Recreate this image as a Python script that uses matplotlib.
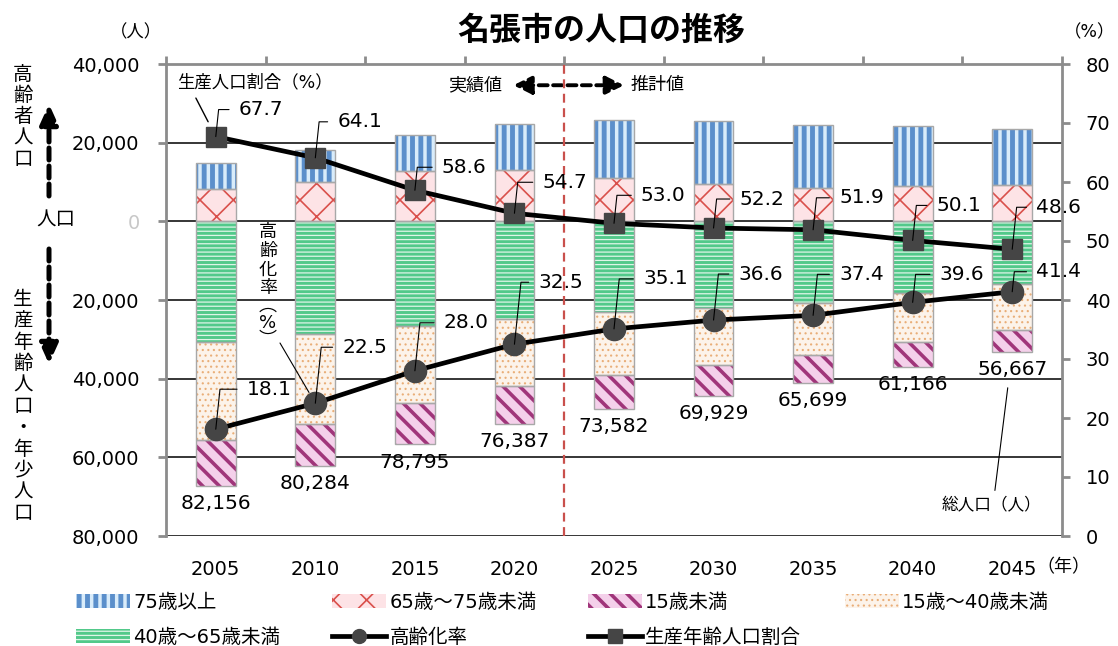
import matplotlib
matplotlib.use('Agg')
import matplotlib.pyplot as plt
import numpy as np
from matplotlib.lines import Line2D
from matplotlib.transforms import blended_transform_factory

plt.rcParams['font.family'] = ['DejaVu Sans', 'Noto Sans CJK JP']
plt.rcParams['axes.unicode_minus'] = False

# --------------------------
# データ
# --------------------------
years = ['2005', '2010', '2015', '2020', '2025', '2030', '2035', '2040', '2045']
total_pop = [82156, 80284, 78795, 76387, 73582, 69929, 65699, 61166, 56667]
aging_rate = [18.1, 22.5, 28.0, 32.5, 35.1, 36.6, 37.4, 39.6, 41.4]
prod_ratio = [67.7, 64.1, 58.6, 54.7, 53.0, 52.2, 51.9, 50.1, 48.6]

pop_75plus = [6600, 8040, 9330, 11700, 14800, 16150, 15990, 15280, 14150]
pop_65_75 = [8270, 10020, 12730, 13130, 11030, 9440, 8580, 8940, 9310]
pop_40_65 = [30660, 28740, 26510, 24720, 23150, 22050, 20720, 18290, 16020]
pop_15_40 = [24960, 22720, 19660, 17060, 15850, 14450, 13380, 12350, 11520]
pop_under15 = [11670, 10760, 10560, 9780, 8750, 7840, 7030, 6310, 5670]

# ラベル位置 (px, マーカーからのずれ)
prod_off = [(23, 27), (22, 36), (27, 23), (28, 31), (27, 28), (26, 29), (26, 32), (24, 35), (24, 42)]
aging_off = [(31, 40), (27, 56), (29, 48), (24, 62), (29, 50), (25, 46), (26, 41), (27, 28), (24, 20)]

W, H = 1118, 646
def fx(px):
    return px / W
def fy(py):
    return 1 - py / H

GRAY = '#8c8c8c'
MARK = '#454545'

fig = plt.figure(figsize=(W / 100, H / 100), dpi=100)
ax = fig.add_axes([fx(166), fy(536), fx(1062) - fx(166), fy(64) - fy(536)])
ax2 = ax.twinx()

x = np.arange(len(years))
bw = 0.4
hatch_lw = {}


def hatch_bar(vals, bottom, face, hcol, hatch, hlw, label):
    with plt.rc_context({'hatch.linewidth': hlw}):
        bars = ax.bar(x, vals, bw, bottom=bottom, color=face, edgecolor=hcol,
                      hatch=hatch, linewidth=0, zorder=2)
    for b in bars:
        if hasattr(b, 'set_hatch_linewidth'):
            b.set_hatch_linewidth(hlw)
    ax.bar(x, vals, bw, bottom=bottom, fill=False, edgecolor='#a8a8a8',
           linewidth=1, zorder=3)
    hatch_lw[label] = hlw
    return bars


a65 = np.array(pop_65_75)
a75 = np.array(pop_75plus)
a40 = np.array(pop_40_65)
a15 = np.array(pop_15_40)
u15 = np.array(pop_under15)

b_65 = hatch_bar(a65, 0, '#fde3e6', '#d9504c', 'x', 1.2, '65歳～75歳未満')
b_75 = hatch_bar(a75, a65, '#d9ecfa', '#5b8fcb', '||', 3.5, '75歳以上')
b_40 = hatch_bar(-a40, 0, '#52c98a', '#dff5e8', '----', 0.9, '40歳～65歳未満')
b_15 = hatch_bar(-a15, -a40, '#fcf3ea', '#e9ae78', '...', 0.8, '15歳～40歳未満')
b_u15 = hatch_bar(-u15, -(a40 + a15), '#f4d0ea', '#a0357a', '\\\\', 2.6, '15歳未満')

# 総人口ラベル
bottoms = -(a40 + a15 + u15)
for i, t in enumerate(total_pop):
    ax.annotate(f'{t:,}', xy=(x[i], bottoms[i]), xytext=(0, -6),
                textcoords='offset points', ha='center', va='top', fontsize=14.5)

# 軸
ax.set_xlim(-0.5, len(years) - 0.5)
ax.set_ylim(-80000, 40000)
yt = np.arange(-80000, 40001, 20000)
ax.set_yticks(yt)
ax.set_yticklabels([f'{abs(v):,}' for v in yt], fontsize=14)
ax.get_yticklabels()[list(yt).index(0)].set_color('#c8c8c8')
ax.tick_params(axis='y', length=6, width=2, color=GRAY, pad=13)
ax.set_xticks(x)
ax.set_xticklabels(years, fontsize=14)
ax.tick_params(axis='x', which='major', length=0, pad=17)
ax.set_xticks(np.arange(-0.5, len(years)), minor=True)
ax.tick_params(axis='x', which='minor', bottom=False, top=True, length=6,
               width=2, color=GRAY, direction='out')
ax.yaxis.grid(True, color='black', lw=1.1, zorder=0)
ax.set_axisbelow(True)
ax.spines['bottom'].set_visible(False)
for s in ['top', 'left']:
    ax.spines[s].set_color(GRAY)
    ax.spines[s].set_linewidth(2)
ax.spines['right'].set_visible(False)

ax2.set_ylim(0, 80)
ax2.set_yticks(np.arange(0, 81, 10))
ax2.tick_params(axis='y', length=6, width=2, color=GRAY, pad=11, labelsize=14)
ax2.spines['right'].set_color(GRAY)
ax2.spines['right'].set_linewidth(2)
for s in ['top', 'left', 'bottom']:
    ax2.spines[s].set_visible(False)

# 実績値 / 推計値 の区切り
ax.axvline(3.5, color='#c9504c', lw=1.6, ls=(0, (4, 2.5)), zorder=4, clip_on=False)

# 折れ線
l_prod, = ax2.plot(x, prod_ratio, color='black', lw=3.4, marker='s', markersize=14,
                   markerfacecolor=MARK, markeredgecolor=MARK, zorder=5)
l_aging, = ax2.plot(x, aging_rate, color='black', lw=3.4, marker='o', markersize=16,
                    markerfacecolor=MARK, markeredgecolor=MARK, zorder=5)

lead = dict(arrowstyle='-', color='black', lw=0.8, shrinkA=5, shrinkB=0,
            relpos=(0, 0.5), connectionstyle='angle,angleA=0,angleB=84,rad=0')
for vals, offs in [(prod_ratio, prod_off), (aging_rate, aging_off)]:
    for i, v in enumerate(vals):
        dx, dy = offs[i]
        ax2.annotate(f'{v:.1f}', xy=(x[i], v), xytext=(dx * 0.72, dy * 0.72),
                     textcoords='offset points', ha='left', va='center',
                     fontsize=14.5, arrowprops=lead, zorder=6)

# 系列名の注記
ax2.annotate('生産人口割合（%）', xy=(x[0], prod_ratio[0]), xytext=(39 * 0.72, 54 * 0.72),
             textcoords='offset points', ha='center', va='center', fontsize=12.5,
             arrowprops=dict(arrowstyle='-', color='black', lw=1, relpos=(0.1, 0),
                             shrinkA=3, shrinkB=12))
ax2.annotate('', xy=(x[1], aging_rate[1]), xytext=(fx(280), fy(343)),
             textcoords='figure fraction',
             arrowprops=dict(arrowstyle='-', color='black', lw=0.8,
                             shrinkA=0, shrinkB=9))
ax.annotate('総人口（人）', xy=(x[8], bottoms[8]), xytext=(-21 * 0.72, -153 * 0.72),
            textcoords='offset points', ha='center', va='center', fontsize=12,
            arrowprops=dict(arrowstyle='-', color='black', lw=0.8, relpos=(0.53, 1),
                            shrinkA=2, shrinkB=26))

tr = blended_transform_factory(ax.transData, ax.transAxes)
ax.annotate('', xy=(2.99, 0.955), xytext=(4.1, 0.955), xycoords=tr, textcoords=tr,
            arrowprops=dict(arrowstyle='<|-|>,head_length=0.9,head_width=0.45', lw=2.8,
                            ls=(0, (2.3, 1.4)), color='black', mutation_scale=12,
                            shrinkA=0, shrinkB=0))
ax.text(2.88, 0.955, '実績値', transform=tr, ha='right', va='center', fontsize=13)
ax.text(4.17, 0.955, '推計値', transform=tr, ha='left', va='center', fontsize=13)

# タイトル・単位
fig.text(fx(601), fy(31), '名張市の人口の推移', ha='center', va='center',
         fontsize=23, fontweight='bold')
fig.text(fx(136), fy(32), '（人）', ha='center', va='center', fontsize=12.5)
fig.text(fx(1115), fy(32), '（%）', ha='right', va='center', fontsize=12.5)


def vtext(xc, y0, s, step, size):
    for k, ch in enumerate(s):
        fig.text(fx(xc), fy(y0 + k * step), ch, ha='center', va='center', fontsize=size)


vtext(23, 74, '高齢者人口', 21.3, 14)
vtext(23, 300, '生産年齢人口・年少人口', 21.3, 14)
vtext(268, 232, '高齢化率', 18.7, 13)
fig.text(fx(268), fy(323), '︵\n%\n︶', ha='center', va='center', fontsize=13,
         linespacing=0.95)
fig.text(fx(56), fy(220), '人口', ha='center', va='center', fontsize=14)
arr = dict(arrowstyle='-|>,head_length=1.0,head_width=0.45', lw=3.6,
           ls=(0, (2.4, 1.2)), color='black', mutation_scale=12, shrinkA=0, shrinkB=0)
ax.annotate('', xy=(fx(49), fy(104)), xytext=(fx(49), fy(196)),
            xycoords='figure fraction', textcoords='figure fraction',
            arrowprops=arr, annotation_clip=False)
ax.annotate('', xy=(fx(49), fy(364)), xytext=(fx(49), fy(249)),
            xycoords='figure fraction', textcoords='figure fraction',
            arrowprops=arr, annotation_clip=False)

fig.text(fx(1063), fy(567), '（年）', ha='center', va='center', fontsize=13)

# 凡例
leg_kw = dict(frameon=False, fontsize=14, handlelength=2.8, handleheight=0.75,
              handletextpad=0.15, labelspacing=0.8, borderaxespad=0, borderpad=0,
              loc='upper left')
h_aging = Line2D([], [], color='black', lw=3.4, marker='o', markersize=10,
                 markerfacecolor=MARK, markeredgecolor=MARK)
h_prod = Line2D([], [], color='black', lw=3.4, marker='s', markersize=10,
                markerfacecolor=MARK, markeredgecolor=MARK)
cols = [
    (76, [b_75, b_40], ['75歳以上', '40歳～65歳未満']),
    (332, [b_65, h_aging], ['65歳～75歳未満', '高齢化率']),
    (588, [b_u15, h_prod], ['15歳未満', '生産年齢人口割合']),
    (845, [b_15], ['15歳～40歳未満']),
]
for px, hs, ls in cols:
    leg = fig.legend(hs, ls, bbox_to_anchor=(fx(px), fy(593)), **leg_kw)
    for p, txt in zip(leg.legend_handles, leg.get_texts()):
        lab = txt.get_text()
        if lab in hatch_lw and hasattr(p, 'set_hatch_linewidth'):
            p.set_hatch_linewidth(hatch_lw[lab])

fig.savefig('out.png', dpi=100)
